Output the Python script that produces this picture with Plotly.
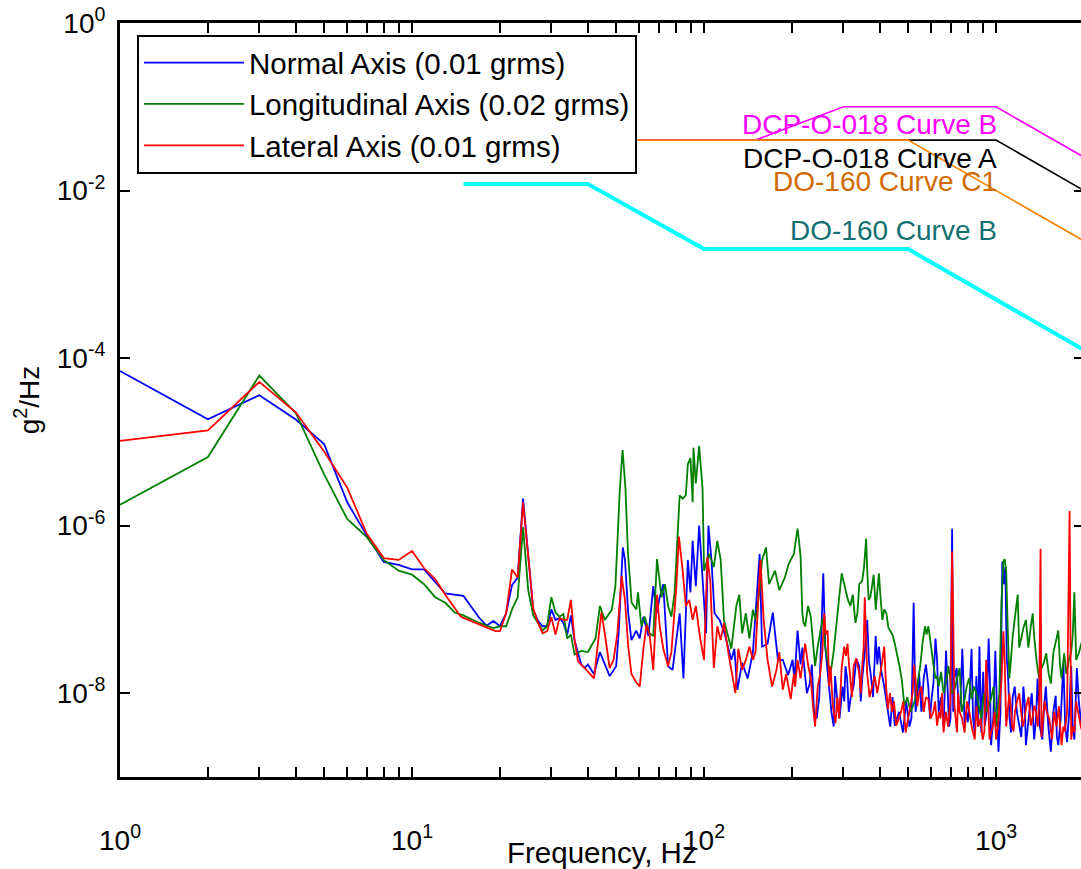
import plotly.graph_objects as go
import numpy as np

# ---------------- data ----------------
normal_f = [1, 2, 3, 4, 5, 6, 7, 8, 9, 10, 11, 12, 13, 15, 17, 18, 19, 20, 21, 22, 23, 24, 25, 26, 27, 28, 29,
            30, 31, 32, 33, 34, 35, 36, 38, 39, 40, 42, 44, 47.5, 50, 51, 52.7, 53.6, 55, 56.4, 58.6, 60.2, 62,
            64.5, 67, 68.8, 70.5, 72.5, 75.3, 78, 82.5, 85, 88, 89.8, 91.4, 93.7, 96.2, 98.8, 101.6, 103.5, 106,
            108.6, 113, 117.5, 124, 127, 130, 135, 141, 147, 155, 158, 165, 172, 179, 186, 194, 201, 209, 214,
            220, 230, 238, 243, 256, 260, 268, 278, 285, 298, 305, 313, 325, 340, 348, 362, 372, 387, 397, 414,
            434, 450, 480, 505, 522, 530, 545, 565, 586, 601, 620, 636, 661, 674, 690, 707, 720, 745, 766, 780,
            800, 824, 845, 877, 890, 915, 943, 961, 994, 1019, 1050, 1075, 1100, 1125, 1158, 1200, 1240, 1265,
            1300, 1350, 1387, 1440, 1480, 1540, 1600, 1633, 1700, 1750, 1808, 1854, 1920, 2000]
normal_psd = [7.0e-5, 1.86e-5, 3.6e-5, 1.85e-5, 9.4e-6, 1.9e-6, 7.6e-7, 3.7e-7, 3.4e-7, 3.0e-7, 3.0e-7, 2.1e-7,
              1.55e-7, 1.45e-7, 7.9e-8, 6.4e-8, 7.3e-8, 6.3e-8, 9.0e-8, 1.95e-7, 2.4e-7, 2.1e-6, 4.2e-7, 9.9e-8,
              7.3e-8, 6.3e-8, 6.3e-8, 1.0e-7, 7.5e-8, 7.9e-8, 6.9e-8, 5.0e-8, 8.5e-8, 4.3e-8, 2.2e-8, 2.0e-8,
              2.2e-8, 1.7e-8, 3.1e-8, 1.6e-8, 2.1e-8, 5.2e-8, 5.5e-7, 3.9e-7, 9.0e-8, 4.3e-8, 5.6e-8, 4.5e-8,
              8.2e-8, 4.8e-8, 1.9e-7, 9.0e-8, 1.4e-7, 2.0e-7, 2.1e-8, 1.9e-8, 9.0e-8, 1.5e-8, 3.9e-7, 1.6e-7,
              6.6e-7, 1.9e-7, 1.0e-6, 2.2e-7, 5.2e-8, 1.0e-6, 3.9e-7, 9.0e-8, 7.5e-8, 5.2e-8, 2.5e-8, 3.4e-8,
              1.1e-8, 2.3e-8, 1.5e-8, 3.1e-8, 4.6e-7, 3.6e-8, 3.9e-8, 9.2e-8, 2.5e-8, 2.5e-8, 1.65e-8, 2.5e-8,
              5.6e-8, 2.2e-8, 2.0e-8, 1.3e-8, 6.0e-9, 5.0e-9, 2.7e-7, 3.6e-8, 1.2e-8, 4.0e-9, 9.3e-9, 1.2e-8,
              2.1e-8, 6.0e-9, 1.2e-8, 2.1e-8, 1.5e-8, 7.5e-8, 1.7e-8, 4.8e-8, 3.6e-8, 1.2e-8, 4.0e-9, 4.1e-9,
              3.4e-9, 4.0e-9, 1.2e-7, 6.0e-9, 1.7e-8, 1.5e-8, 1.2e-8, 8.5e-9, 4.5e-8, 6.0e-9, 4.0e-9, 3.2e-8,
              4.0e-9, 9.2e-7, 1.5e-8, 6.0e-9, 3.4e-8, 4.1e-9, 4.5e-9, 3.4e-8, 3.4e-9, 3.6e-8, 3.4e-9, 4.1e-9,
              4.5e-8, 2.4e-9, 3.2e-8, 2.0e-9, 3.7e-7, 3.2e-7, 1.5e-8, 3.4e-9, 1.2e-8, 4.0e-9, 1.2e-8, 2.4e-9,
              6.0e-9, 2.8e-9, 1.5e-8, 2.8e-9, 1.2e-8, 2.0e-9, 9.3e-9, 2.4e-9, 2.3e-8, 2.6e-9, 2.1e-8, 2.8e-9,
              8.0e-9, 3.0e-9]
# extra readings in the dense 200-2000 Hz band
normal_f_extra = [204, 217, 225, 234, 248, 252, 264, 273, 281, 291, 302, 309, 318, 332, 344, 355, 367, 379,
                  392, 405, 424, 442, 465, 492, 513, 538, 555, 575, 594, 610, 628, 648, 682, 698, 713, 733, 755,
                  773, 790, 812, 834, 856, 867, 903, 928, 952, 978, 1005, 1035, 1062, 1088, 1112, 1140, 1178,
                  1220, 1252, 1282, 1325, 1370, 1412, 1460, 1510, 1570, 1615, 1665, 1725, 1780, 1830, 1890, 1960]
normal_psd_extra = [1.4e-8, 3.5e-8, 1.0e-8, 2.2e-8, 9e-9, 6e-8, 2.0e-8, 6e-9, 1.6e-8, 5e-9, 8e-9, 1.5e-8, 9e-9,
                    2.6e-8, 8e-9, 3e-8, 2.4e-8, 9e-9, 2.2e-8, 1.8e-8, 7e-9, 9e-9, 6e-9, 8e-9, 5e-9, 9e-9, 6e-9,
                    2.2e-8, 5e-9, 1.3e-8, 2.5e-8, 9e-9, 1.2e-8, 5e-9, 6e-9, 2.0e-8, 8e-9, 1.4e-8, 6e-9, 1.0e-8,
                    5e-9, 1.6e-8, 4e-9, 1.8e-8, 6e-9, 1.5e-8, 5e-9, 8e-9, 6e-9, 2.0e-7, 2.6e-8, 5e-9, 9e-9, 6e-9,
                    3e-9, 8e-9, 4e-9, 1.0e-8, 5e-9, 4e-9, 7e-9, 4e-9, 6e-9, 3e-9, 5e-9, 4e-9, 6e-9, 4e-9, 2.0e-8,
                    4e-9]

long_f = [1, 2, 3, 4, 5, 6, 7, 8, 9, 10, 11, 12, 13, 14, 15, 16, 17, 19, 20, 21, 22, 23, 24, 25, 26, 27, 28, 29,
          30, 31, 32, 33, 34, 35, 36, 38, 40, 42.5, 44, 45.7, 48.3, 49.7, 51.5, 52.6, 53.8, 54.9, 56.5, 58.6,
          59.4, 61, 62.6, 65, 67, 69, 70.5, 71.5, 73.5, 75.3, 77.3, 79.3, 82.5, 84.5, 86.6, 88, 89.8, 91.4, 92,
          93.7, 96.2, 98.8, 100, 104, 108, 111, 114, 117, 124, 129, 132, 135, 139, 143, 147, 150, 155, 158, 163,
          167, 175, 181, 189, 195, 203, 209, 214, 217, 222, 232, 240, 250, 260, 271, 285, 296, 305, 317, 330,
          340, 348, 359, 366, 376, 387, 397, 408, 421, 434, 450, 467, 485, 509, 529, 550, 571, 586, 601, 620,
          636, 661, 686, 705, 735, 763, 793, 824, 856, 890, 925, 961, 1000, 1026, 1059, 1083, 1110, 1138, 1186,
          1218, 1265, 1315, 1350, 1404, 1457, 1514, 1572, 1633, 1676, 1741, 1808, 1854, 1920, 2000]
long_psd = [1.78e-6, 6.6e-6, 6.2e-5, 2.2e-5, 4.1e-6, 1.2e-6, 7.3e-7, 3.9e-7, 2.9e-7, 2.6e-7, 2.0e-7, 1.4e-7,
            1.2e-7, 9.2e-8, 8.5e-8, 7.7e-8, 6.9e-8, 6.0e-8, 6.3e-8, 6.3e-8, 1.0e-7, 1.4e-7, 9.6e-7, 1.7e-7,
            8.5e-8, 6.9e-8, 5.6e-8, 6.3e-8, 1.4e-7, 9.2e-8, 8.2e-8, 8.8e-8, 4.5e-8, 5.0e-8, 2.9e-8, 3.2e-8,
            3.1e-8, 4.5e-8, 1.1e-7, 7.5e-8, 9.9e-8, 1.9e-7, 2.8e-6, 8.0e-6, 2.8e-6, 4.6e-7, 1.2e-7, 1.0e-7,
            1.6e-7, 6.3e-8, 8.2e-8, 5.2e-8, 4.8e-8, 4.0e-7, 1.9e-7, 1.4e-7, 2.0e-7, 1.1e-7, 8.2e-8, 1.6e-7,
            2.3e-6, 2.1e-6, 2.3e-6, 5.4e-6, 6.4e-6, 1.9e-6, 8.5e-6, 3.2e-6, 8.9e-6, 2.8e-6, 2.9e-7, 4.6e-7,
            3.2e-7, 6.6e-7, 3.9e-7, 7.5e-8, 3.4e-8, 1.1e-7, 1.5e-7, 5.2e-8, 9.0e-8, 4.5e-8, 9.9e-8, 7.5e-8,
            1.7e-7, 3.9e-7, 5.5e-7, 2.0e-7, 2.9e-7, 1.7e-7, 2.4e-7, 3.5e-7, 4.6e-7, 9.2e-7, 4.3e-7, 9.2e-8,
            6.3e-8, 8.2e-8, 2.1e-8, 5.6e-8, 3.6e-8, 1.7e-8, 7.5e-8, 2.7e-7, 1.7e-7, 1.1e-7, 6.9e-8, 2.0e-7,
            2.2e-7, 7.0e-7, 1.3e-7, 1.9e-7, 9.9e-8, 2.7e-7, 7.5e-8, 9.0e-8, 5.6e-8, 3.9e-8, 2.1e-8, 7.1e-9,
            6.0e-9, 8.5e-9, 2.1e-8, 6.3e-8, 6.3e-8, 3.1e-8, 1.5e-8, 1.2e-8, 1.0e-8, 2.1e-8, 1.0e-8, 1.5e-8,
            6.0e-9, 1.2e-8, 8.5e-9, 1.0e-8, 5.0e-9, 6.0e-9, 8.5e-9, 4.0e-9, 1.0e-8, 3.7e-7, 2.9e-7, 1.5e-8,
            4.5e-8, 1.5e-7, 4.5e-8, 7.5e-8, 6.3e-8, 4.8e-8, 1.5e-8, 2.3e-8, 1.7e-8, 3.1e-8, 5.6e-8, 1.5e-8,
            1.7e-8, 3.1e-8, 1.6e-7, 3.0e-8, 2.0e-8]
long_f_extra = [212, 219, 227, 236, 245, 255, 265, 278, 290, 300, 311, 323, 335, 353, 362, 371, 381, 392, 402,
                414, 428, 442, 458, 476, 497, 519, 540, 560, 578, 594, 610, 628, 648, 673, 695, 720, 750, 778,
                808, 840, 873, 908, 943, 980, 1012, 1043, 1070, 1096, 1124, 1160, 1200, 1240, 1290, 1335, 1375,
                1430, 1485, 1540, 1600, 1655, 1710, 1775, 1830, 1880, 1960]
long_psd_extra = [6e-7, 7e-8, 1.1e-7, 4e-8, 3.6e-8, 8e-8, 2.4e-8, 3.2e-8, 1.5e-7, 2.2e-7, 1.3e-7, 1.5e-7, 9e-8,
                  3.2e-7, 3.0e-7, 1.4e-7, 2.6e-7, 1.6e-7, 1.4e-7, 1.0e-7, 6e-8, 5e-8, 3e-8, 1.4e-8, 9e-9, 7e-9,
                  1.4e-8, 4e-8, 5e-8, 4.5e-8, 2.2e-8, 1.6e-8, 1.8e-8, 1.3e-8, 1.6e-8, 1.1e-8, 2.0e-8, 8e-9,
                  1.5e-8, 1.2e-8, 7e-9, 1.0e-8, 7e-9, 1.2e-8, 6e-9, 1.2e-7, 4.0e-7, 6e-8, 2.5e-8, 8e-8, 3.5e-8,
                  6e-8, 3.5e-8, 9e-8, 2.5e-8, 2.0e-8, 3.0e-8, 1.3e-8, 4e-8, 2.2e-8, 3.0e-8, 2.5e-8, 5e-8, 2.5e-8,
                  4e-8]

lat_f = [1, 2, 3, 4, 5, 6, 7, 8, 9, 10, 11, 12, 13, 14.7, 16.5, 18.3, 19.3, 20, 21, 22, 23, 24, 25, 26, 27, 28,
         29, 30, 31, 32, 33, 34, 35, 36, 37, 39, 42, 44.5, 45.7, 47.5, 49, 50.5, 52.2, 53.6, 55, 56.4, 58.6,
         60.2, 62, 63.5, 65, 67, 69, 70.5, 72.5, 75.3, 77.3, 80.4, 82, 84.5, 86.6, 89, 91.4, 93.7, 97, 100,
         102.6, 105, 108, 111, 114, 117, 121, 125, 128, 131, 135, 139, 143, 147, 150, 156, 160, 165, 171, 177,
         181, 186, 191, 198, 203, 209, 214, 222, 232, 240, 250, 258, 265, 271, 282, 290, 302, 310, 317, 325,
         340, 348, 355, 362, 376, 392, 403, 414, 426, 440, 455, 473, 490, 518, 530, 545, 565, 586, 610, 628,
         645, 661, 685, 707, 720, 735, 750, 780, 810, 845, 870, 900, 925, 950, 975, 1000, 1030, 1059, 1083,
         1110, 1135, 1160, 1200, 1235, 1270, 1315, 1350, 1390, 1420, 1440, 1490, 1555, 1610, 1676, 1720, 1785,
         1808, 1854, 1920, 2000]
lat_psd = [1.03e-5, 1.37e-5, 5.2e-5, 2.25e-5, 7.7e-6, 2.85e-6, 8.0e-7, 4.1e-7, 3.9e-7, 5.0e-7, 3.1e-7, 2.3e-7,
           1.5e-7, 8.2e-8, 6.9e-8, 5.9e-8, 5.5e-8, 5.5e-8, 9.0e-8, 3.0e-7, 2.4e-7, 1.9e-6, 3.9e-7, 1.03e-7,
           6.9e-8, 5.2e-8, 5.5e-8, 8.1e-8, 5.0e-8, 7.9e-8, 7.5e-8, 7.5e-8, 1.3e-7, 4.4e-8, 2.4e-8, 2.0e-8,
           1.5e-8, 9.2e-8, 5.2e-8, 2.0e-8, 2.5e-8, 5.2e-8, 2.5e-7, 1.3e-7, 3.6e-8, 1.7e-8, 1.35e-8, 1.2e-8,
           3.4e-8, 6.5e-8, 5.2e-8, 1.9e-8, 1.5e-7, 6.3e-8, 3.4e-8, 2.1e-8, 3.1e-8, 1.9e-7, 7.4e-7, 2.9e-7,
           1.1e-7, 1.3e-7, 7.5e-8, 1.1e-7, 4.5e-8, 2.5e-8, 4.2e-7, 2.2e-7, 2.0e-8, 6.3e-8, 4.3e-8, 6.9e-8,
           3.1e-8, 1.65e-8, 1.0e-8, 3.4e-8, 1.9e-8, 2.5e-8, 3.6e-8, 2.5e-8, 3.1e-8, 3.9e-7, 7.5e-8, 2.5e-8,
           1.2e-8, 1.9e-8, 3.1e-8, 1.1e-8, 1.7e-8, 8.5e-9, 1.7e-8, 2.5e-8, 1.5e-8, 3.9e-8, 1.5e-8, 4.0e-9,
           1.7e-8, 9.0e-8, 5.6e-8, 2.1e-8, 4.4e-9, 5.0e-9, 3.6e-8, 3.9e-8, 1.5e-8, 2.1e-8, 1.7e-8, 2.1e-8,
           1.4e-7, 1.7e-8, 1.2e-8, 1.0e-8, 2.1e-8, 3.6e-8, 6.5e-9, 6.0e-9, 4.1e-9, 6.0e-9, 3.4e-9, 1.0e-8,
           1.5e-8, 1.0e-8, 6.0e-9, 8.5e-9, 6.0e-9, 4.1e-9, 5.0e-9, 3.4e-9, 4.0e-9, 4.9e-7, 7.1e-9, 3.4e-9,
           6.0e-9, 3.4e-9, 6.0e-9, 2.8e-9, 4.0e-9, 2.8e-9, 2.5e-8, 2.8e-9, 4.0e-9, 2.8e-9, 8.5e-9, 5.5e-8,
           4.0e-9, 1.0e-8, 4.0e-9, 6.0e-9, 1.0e-8, 4.0e-9, 7.1e-9, 4.1e-9, 7.1e-9, 4.0e-9, 5.3e-7, 4.1e-9,
           6.0e-9, 2.8e-9, 4.0e-9, 2.4e-9, 3.5e-9, 1.5e-6, 2.8e-9, 3.4e-9, 5.0e-9, 3.0e-9]
lat_f_extra = [205, 218, 227, 236, 245, 254, 261, 268, 276, 286, 296, 306, 313, 321, 332, 344, 352, 358, 369,
               384, 397, 408, 420, 433, 447, 463, 481, 500, 510, 524, 537, 555, 575, 597, 618, 637, 653, 673,
               697, 712, 727, 742, 765, 795, 825, 857, 885, 912, 938, 962, 988, 1015, 1045, 1070, 1097, 1122,
               1148, 1180, 1218, 1252, 1292, 1332, 1370, 1405, 1430, 1465, 1520, 1580, 1640, 1700, 1750, 1800,
               1830, 1880, 1950]
lat_psd_extra = [1.2e-8, 2.6e-8, 2.2e-8, 7e-9, 1.2e-8, 3.0e-8, 5e-8, 1.2e-8, 7e-9, 9e-9, 2.0e-8, 2.8e-8, 2.4e-8,
                 9e-9, 2.6e-8, 1.0e-8, 3.5e-8, 6e-8, 9e-9, 1.6e-8, 1.4e-8, 2.5e-8, 1.2e-8, 1.0e-8, 8e-9, 5e-9,
                 8e-9, 5e-9, 7e-9, 2.2e-8, 7e-9, 1.2e-8, 9e-9, 5e-9, 8e-9, 6e-9, 1.0e-8, 6e-9, 8e-9, 1.2e-7,
                 5e-9, 1.0e-8, 5e-9, 8e-9, 4e-9, 7e-9, 5e-9, 3.5e-9, 8e-9, 3.5e-9, 6e-9, 4e-9, 1.5e-8, 2.5e-8,
                 6e-9, 7e-9, 3.5e-9, 8e-9, 6e-9, 5e-9, 9e-9, 5e-9, 6e-9, 8e-9, 3e-9, 8e-9, 5e-9, 6e-9, 7e-9,
                 4e-9, 6e-9, 1.0e-8, 4e-9, 8e-9, 4e-9]

# limit curves
do160_b_f = [15, 40, 100, 500, 2000]
do160_b_psd = [0.012, 0.012, 0.002, 0.002, 1.25e-4]
do160_c1_f = [10, 500, 2000]
do160_c1_psd = [0.04, 0.04, 0.0025]
dcp_a_f = [10, 1000, 2000]
dcp_a_psd = [0.04, 0.04, 0.01]
dcp_b_f = [10, 150, 300, 1000, 2000]
dcp_b_psd = [0.04, 0.04, 0.1, 0.1, 0.025]

legend_names = ["Normal Axis (0.01 grms)", "Longitudinal Axis (0.02 grms)", "Lateral Axis (0.01 grms)"]
curve_labels = ["DCP-O-018 Curve B", "DCP-O-018 Curve A", "DO-160 Curve C1", "DO-160 Curve B"]
curve_label_y = [0.062, 0.024, 0.0128, 0.0033]
curve_label_colors = ["#FF00FF", "#000000", "#D06A00", "#137070"]

x_major = [1, 10, 100, 1000]
x_major_text = ["10<sup>0</sup>", "10<sup>1</sup>", "10<sup>2</sup>", "10<sup>3</sup>"]
y_major = [1e-8, 1e-6, 1e-4, 1e-2, 1]
y_major_text = ["10<sup>-8</sup>", "10<sup>-6</sup>", "10<sup>-4</sup>", "10<sup>-2</sup>", "10<sup>0</sup>"]

FONT = "Arial, Liberation Sans, Helvetica, sans-serif"


def merged(f_main, p_main, f_extra, p_extra):
    pairs = sorted(zip(list(f_main) + list(f_extra), list(p_main) + list(p_extra)))
    return [a for a, _ in pairs], [b for _, b in pairs]


fig = go.Figure()

# limit lines (no legend)
fig.add_trace(go.Scatter(x=dcp_a_f, y=dcp_a_psd, mode="lines", line=dict(color="black", width=1.6),
                         showlegend=False, hoverinfo="skip"))
fig.add_trace(go.Scatter(x=dcp_b_f, y=dcp_b_psd, mode="lines", line=dict(color="#FF00FF", width=1.6),
                         showlegend=False, hoverinfo="skip"))
fig.add_trace(go.Scatter(x=do160_c1_f, y=do160_c1_psd, mode="lines", line=dict(color="#FF8000", width=1.6),
                         showlegend=False, hoverinfo="skip"))
fig.add_trace(go.Scatter(x=do160_b_f, y=do160_b_psd, mode="lines", line=dict(color="#00FFFF", width=4),
                         showlegend=False, hoverinfo="skip"))

# measured PSDs
series = [(merged(normal_f, normal_psd, normal_f_extra, normal_psd_extra), legend_names[0], "#0000FF", "a"),
          (merged(long_f, long_psd, long_f_extra, long_psd_extra), legend_names[1], "#008000", "b"),
          (merged(lat_f, lat_psd, lat_f_extra, lat_psd_extra), legend_names[2], "#FF0000", "c")]
for (f, p), name, col, grp in series:
    fig.add_trace(go.Scatter(x=f, y=p, mode="lines", name=name, legendgroup=grp,
                             line=dict(color=col, width=1.8)))

for txt, yv, col in zip(curve_labels, curve_label_y, curve_label_colors):
    fig.add_annotation(x=3, y=np.log10(yv), xref="x", yref="y", text=txt, showarrow=False, xshift=3,
                       xanchor="right", yanchor="middle", font=dict(family=FONT, size=28, color=col))

W, H = 1090, 869
L, R, T, B = 120, 3, 17, 92
PW, PH = W - L - R, H - T - B

# x-axis title placed as an annotation (sits between the tick labels, as in the reference)
fig.add_annotation(x=0.5, y=-(853 - (H - B)) / PH, xref="paper", yref="paper", text="Frequency, Hz",
                   showarrow=False, xanchor="center", yanchor="middle",
                   font=dict(family=FONT, size=29.5, color="black"))

minor_vals = []
for d in [1, 10, 100, 1000]:
    for m in range(1, 10):
        if d * m <= 2000:
            minor_vals.append(d * m)
x_tickvals = minor_vals
x_ticktext = [x_major_text[x_major.index(v)] if v in x_major else "" for v in x_tickvals]

fig.update_layout(
    width=W, height=H,
    margin=dict(l=L, r=R, t=T, b=B),
    plot_bgcolor="white", paper_bgcolor="white",
    font=dict(family=FONT, size=28, color="black"),
    showlegend=True,
    legend=dict(x=(137 - L) / PW, y=1 - (29 - T) / PH, xanchor="left", yanchor="top",
                bgcolor="white", bordercolor="black", borderwidth=2,
                font=dict(family=FONT, size=29.5), itemwidth=100, tracegroupgap=0,
                traceorder="grouped"),
    xaxis=dict(type="log", range=[0, np.log10(2000)], showgrid=False, zeroline=False,
               showline=True, linecolor="black", linewidth=3, mirror="allticks",
               ticks="inside", ticklen=10, tickwidth=2, tickcolor="black",
               tickvals=x_tickvals, ticktext=x_ticktext, ticklabelstandoff=36),
    yaxis=dict(type="log", range=[-9, 0.0], showgrid=False, zeroline=False,
               showline=True, linecolor="black", linewidth=3, mirror="allticks",
               ticks="inside", ticklen=10, tickwidth=2, tickcolor="black",
               tickvals=y_major, ticktext=y_major_text, ticklabelstandoff=6,
               ticklabeloverflow="allow",
               title=dict(text="g<sup>2</sup>/Hz", font=dict(family=FONT, size=28), standoff=10)),
)

fig.write_html("out.html", config={"displayModeBar": False},
               post_script="document.body.style.margin='0';document.body.style.overflow='hidden';")
